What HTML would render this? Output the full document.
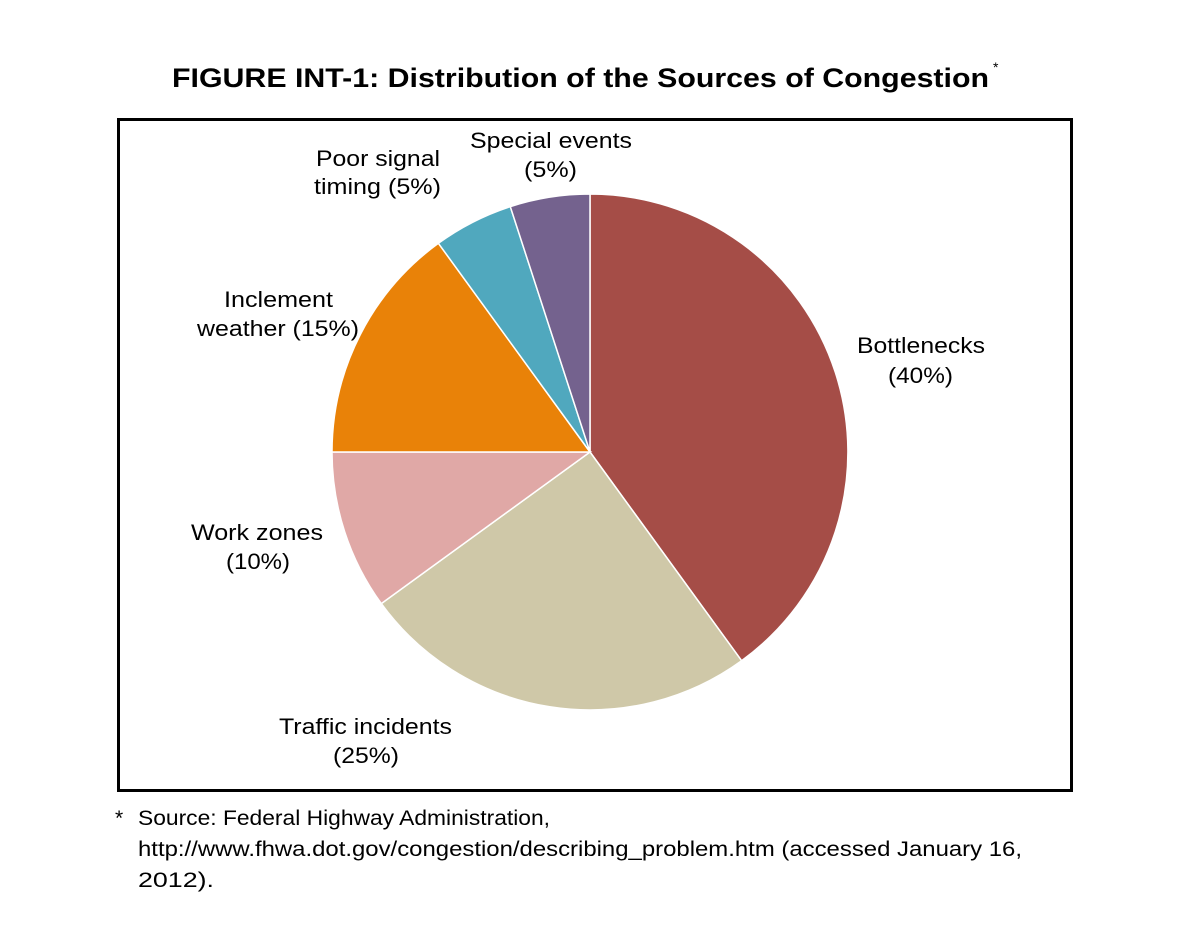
<!DOCTYPE html>
<html><head><meta charset="utf-8"><style>
body{margin:0;background:#fff;}
</style></head><body>
<svg width="1183" height="945" xmlns="http://www.w3.org/2000/svg" font-family="Liberation Sans, Arial, sans-serif">
<rect width="1183" height="945" fill="#fff"/>
<text x="172" y="87" font-size="27" font-weight="bold" fill="#000" textLength="817" lengthAdjust="spacingAndGlyphs">FIGURE INT-1: Distribution of the Sources of Congestion</text>
<text x="993" y="72" font-size="14" fill="#000">*</text>
<rect x="118.5" y="119.5" width="953" height="671" fill="none" stroke="#000" stroke-width="3"/>
<g stroke="#fff" stroke-width="1.5">
<path d="M590,452 L590,194 A258,258 0 0 1 741.6,660.7 Z" fill="#A54D47"/>
<path d="M590,452 L741.6,660.7 A258,258 0 0 1 381.3,603.6 Z" fill="#CFC8A8"/>
<path d="M590,452 L381.3,603.6 A258,258 0 0 1 332,452 Z" fill="#E0A8A6"/>
<path d="M590,452 L332,452 A258,258 0 0 1 438.4,243.3 Z" fill="#E98208"/>
<path d="M590,452 L438.4,243.3 A258,258 0 0 1 510.3,206.6 Z" fill="#50A8BE"/>
<path d="M590,452 L510.3,206.6 A258,258 0 0 1 590,194 Z" fill="#74628E"/>
</g>
<g font-size="22" fill="#000">
<text x="470" y="148" textLength="162" lengthAdjust="spacingAndGlyphs">Special events</text><text x="524" y="177" textLength="53" lengthAdjust="spacingAndGlyphs">(5%)</text>
<text x="316" y="166" textLength="124" lengthAdjust="spacingAndGlyphs">Poor signal</text><text x="314" y="194" textLength="127" lengthAdjust="spacingAndGlyphs">timing (5%)</text>
<text x="224" y="307" textLength="109" lengthAdjust="spacingAndGlyphs">Inclement</text><text x="197" y="336" textLength="162" lengthAdjust="spacingAndGlyphs">weather (15%)</text>
<text x="857" y="353" textLength="128" lengthAdjust="spacingAndGlyphs">Bottlenecks</text><text x="888" y="383" textLength="65" lengthAdjust="spacingAndGlyphs">(40%)</text>
<text x="191" y="540" textLength="132" lengthAdjust="spacingAndGlyphs">Work zones</text><text x="226" y="569" textLength="64" lengthAdjust="spacingAndGlyphs">(10%)</text>
<text x="279" y="734" textLength="173" lengthAdjust="spacingAndGlyphs">Traffic incidents</text><text x="333" y="763" textLength="66" lengthAdjust="spacingAndGlyphs">(25%)</text>
</g>
<g font-size="21" fill="#000">
<text x="115" y="825">*</text>
<text x="138" y="825" textLength="412" lengthAdjust="spacingAndGlyphs">Source: Federal Highway Administration,</text>
<text x="138" y="856" textLength="884" lengthAdjust="spacingAndGlyphs">http://www.fhwa.dot.gov/congestion/describing_problem.htm (accessed January 16,</text>
<text x="138" y="887" textLength="76" lengthAdjust="spacingAndGlyphs">2012).</text>
</g>
</svg>
</body></html>
